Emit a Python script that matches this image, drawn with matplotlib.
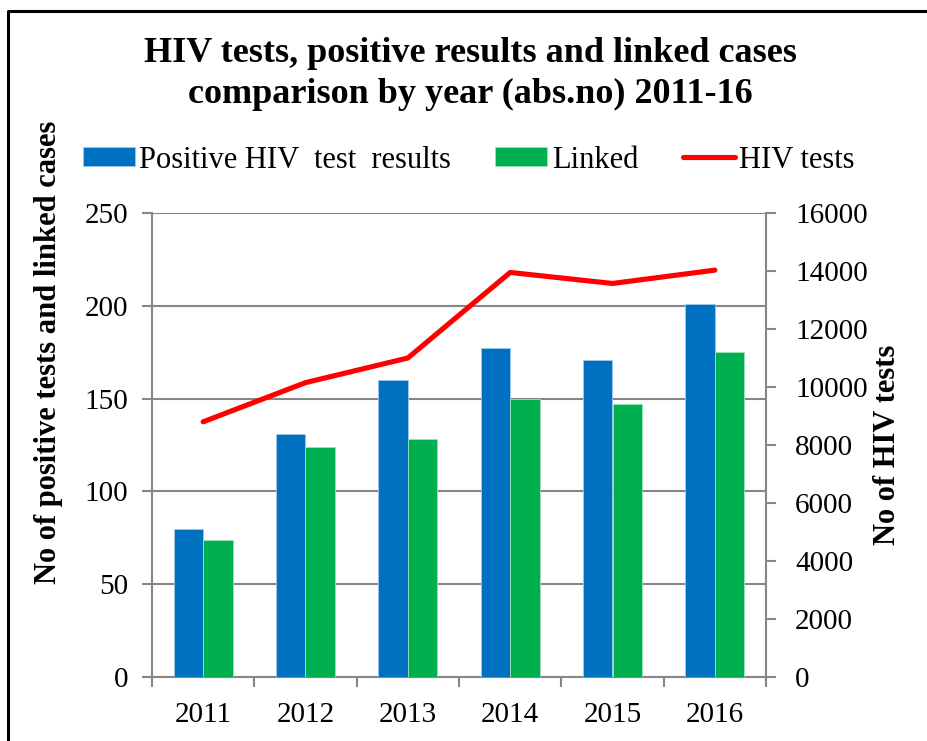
import numpy as np
import matplotlib.pyplot as plt
from matplotlib.lines import Line2D

years = ['2011', '2012', '2013', '2014', '2015', '2016']
positive = [80, 131, 160, 177, 171, 201]
linked = [74, 124, 128, 150, 147, 175]
hiv_tests = [8800, 10150, 11000, 13950, 13570, 14030]

blue = '#0070C0'
green = '#00B050'
red = '#FF0000'
grey = '#868686'

plt.rcParams['font.family'] = 'Liberation Serif'

fig = plt.figure(figsize=(9.28, 7.41), dpi=100)
ax = fig.add_axes([152 / 928, 1 - 677 / 741, 614 / 928, 464 / 741])
ax2 = ax.twinx()

x = np.arange(len(years))
w = 0.287
ax.bar(x - w / 2, positive, w, color=blue, edgecolor='#9ec9e8', linewidth=0.6, zorder=3,
       label='Positive HIV  test  results')
ax.bar(x + w / 2, linked, w, color=green, edgecolor='#9fe0bb', linewidth=0.6, zorder=3,
       label='Linked')
ax2.plot(x, hiv_tests, color=red, lw=3.7, solid_capstyle='round', solid_joinstyle='round',
         label='HIV tests')

ax.set_xlim(-0.5, len(years) - 0.5)
ax.set_ylim(0, 250)
ax.set_yticks(np.arange(0, 251, 50))
ax2.set_ylim(0, 16000)
ax2.set_yticks(np.arange(0, 16001, 2000))

# category boundary ticks, labels centred
ax.set_xticks(np.arange(-0.5, len(years), 1))
ax.set_xticklabels([])
ax.set_xticks(x, minor=True)
ax.set_xticklabels(years, minor=True)
ax.tick_params(axis='x', which='major', direction='out', length=7, width=1.5, color=grey)
ax.tick_params(axis='x', which='minor', length=0, pad=18, labelsize=21)
ax.tick_params(axis='y', direction='out', length=7, width=1.5, color=grey, pad=10, labelsize=21)
ax2.tick_params(axis='y', direction='out', length=7, width=1.5, color=grey, pad=14, labelsize=21)

ax.yaxis.grid(True, color=grey, lw=1.5, zorder=0)
ax.set_axisbelow(True)
for a in (ax, ax2):
    a.spines['top'].set_visible(False)
    for s in ('left', 'right', 'bottom'):
        a.spines[s].set_color(grey)
        a.spines[s].set_linewidth(1.5)
ax.spines['right'].set_visible(False)
ax2.spines['left'].set_visible(False)
ax2.spines['bottom'].set_visible(False)

ax.set_ylabel('No of positive tests and linked cases', fontsize=22, fontweight='bold')
ax.yaxis.set_label_coords(-0.145, 0.70)
ax2.set_ylabel('No of HIV tests', fontsize=22, fontweight='bold', labelpad=4)

fig.text(0.507, 1 - 54 / 741, 'HIV tests, positive results and linked cases', ha='center',
         va='center', fontsize=26, fontweight='bold')
fig.text(0.507, 1 - 94 / 741, 'comparison by year (abs.no) 2011-16', ha='center',
         va='center', fontsize=26, fontweight='bold')

h1, l1 = ax.get_legend_handles_labels()
h2, l2 = ax2.get_legend_handles_labels()
fig.legend(h1 + h2, l1 + l2, loc='center', bbox_to_anchor=(0.505, 1 - 160 / 741), ncol=3,
           frameon=False, fontsize=22, handlelength=1.7, handleheight=0.55,
           handletextpad=0.15, columnspacing=1.45)

# outer chart border, only top and left edges are in view
fig.add_artist(Line2D([8 / 928, 8 / 928, 1.1], [-0.1, 1 - 11 / 741, 1 - 11 / 741],
                      transform=fig.transFigure, color='black', lw=2.2, solid_capstyle='butt'))

fig.savefig('out.png', dpi=100)
